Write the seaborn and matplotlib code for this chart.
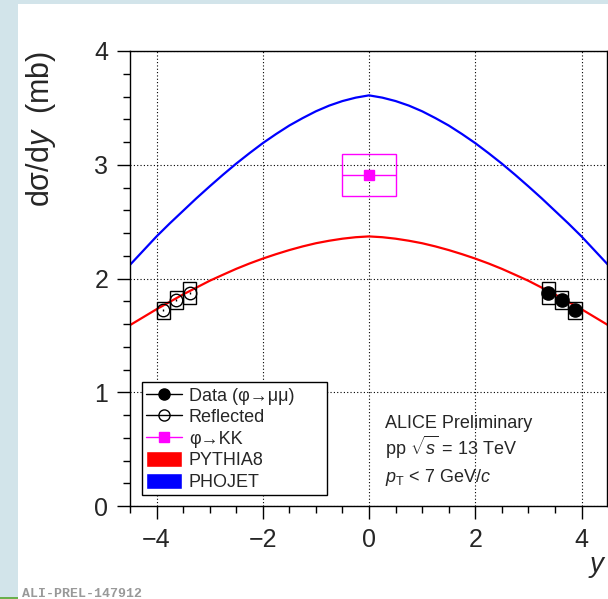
import numpy as np
import pandas as pd
import matplotlib.pyplot as plt
from matplotlib.patches import Rectangle, Patch
from matplotlib.lines import Line2D
from matplotlib.ticker import MultipleLocator
import seaborn as sns

# MC predictions (step 0.25 in y)
y_mc = [-4.5, -4.25, -4.0, -3.75, -3.5, -3.25, -3.0, -2.75, -2.5, -2.25,
        -2.0, -1.75, -1.5, -1.25, -1.0, -0.75, -0.5, -0.25, 0.0,
        0.25, 0.5, 0.75, 1.0, 1.25, 1.5, 1.75, 2.0, 2.25,
        2.5, 2.75, 3.0, 3.25, 3.5, 3.75, 4.0, 4.25, 4.5]
pythia8 = [1.59, 1.66, 1.73, 1.795, 1.86, 1.92, 1.98, 2.033, 2.085, 2.132,
           2.175, 2.214, 2.25, 2.282, 2.31, 2.332, 2.35, 2.363, 2.37,
           2.363, 2.35, 2.332, 2.31, 2.282, 2.25, 2.214, 2.175, 2.132,
           2.085, 2.033, 1.98, 1.92, 1.86, 1.795, 1.73, 1.66, 1.59]
phojet = [2.12, 2.245, 2.37, 2.485, 2.595, 2.705, 2.81, 2.912, 3.01, 3.102,
          3.19, 3.27, 3.345, 3.41, 3.47, 3.52, 3.56, 3.59, 3.61,
          3.59, 3.56, 3.52, 3.47, 3.41, 3.345, 3.27, 3.19, 3.102,
          3.01, 2.912, 2.81, 2.705, 2.595, 2.485, 2.37, 2.245, 2.12]

# phi -> mu mu data (forward) and its reflection
data_y = [3.375, 3.625, 3.875]
refl_y = [-3.375, -3.625, -3.875]
data_val = [1.87, 1.81, 1.72]
data_stat = [0.01, 0.01, 0.01]
data_syst = [0.095, 0.08, 0.075]
data_halfwidth = 0.125

# phi -> KK at midrapidity
kk_y = [0.0]
kk_val = [2.91]
kk_stat = [0.02]
kk_syst = [0.185]
kk_halfwidth = 0.5

sns.set_style('ticks')
plt.rcParams['font.family'] = ['Liberation Sans', 'DejaVu Sans']
plt.rcParams['mathtext.fontset'] = 'custom'
plt.rcParams['mathtext.rm'] = 'Liberation Sans'
plt.rcParams['mathtext.it'] = 'Liberation Sans:italic'

fig = plt.figure(figsize=(6.08, 5.99), dpi=100)
fig.patch.set_facecolor('#d2e4ea')
fig.patches.append(Rectangle((18/608, 0), 1, 1 - 4/599, transform=fig.transFigure,
                             facecolor='white', edgecolor='none', zorder=-2))
fig.patches.append(Rectangle((0, 0), 18/608, 2/599, transform=fig.transFigure,
                             facecolor='#6ab04c', edgecolor='none', zorder=-1))

ax = fig.add_axes([130/608, 1 - 506/599, (607 - 130)/608, (506 - 51)/599])

df = pd.DataFrame({'y': y_mc, 'PYTHIA8': pythia8, 'PHOJET': phojet})
sns.lineplot(data=df, x='y', y='PYTHIA8', color='red', lw=1.6, ax=ax)
sns.lineplot(data=df, x='y', y='PHOJET', color='blue', lw=1.6, ax=ax)

# systematic boxes
for yy, v, s in zip(data_y + refl_y, data_val + data_val, data_syst + data_syst):
    ax.add_patch(Rectangle((yy - data_halfwidth, v - s), 2*data_halfwidth, 2*s,
                           fill=False, edgecolor='black', lw=1, zorder=4))
for yy, v, s in zip(kk_y, kk_val, kk_syst):
    ax.add_patch(Rectangle((yy - kk_halfwidth, v - s), 2*kk_halfwidth, 2*s,
                           fill=False, edgecolor='magenta', lw=1, zorder=4))

ax.errorbar(data_y, data_val, yerr=data_stat, fmt='o', color='black', ms=9.5,
            lw=1, zorder=5)
ax.errorbar(refl_y, data_val, yerr=data_stat, fmt='o', color='black', mfc='none',
            ms=9, lw=1, mew=1, zorder=5)
ax.errorbar(kk_y, kk_val, xerr=kk_halfwidth, yerr=kk_stat, fmt='s', color='magenta',
            ms=7, lw=1, zorder=5)

ax.set_xlim(-4.5, 4.48)
ax.set_ylim(0, 4)
ax.xaxis.set_major_locator(MultipleLocator(2))
ax.xaxis.set_minor_locator(MultipleLocator(0.5))
ax.yaxis.set_major_locator(MultipleLocator(1))
ax.yaxis.set_minor_locator(MultipleLocator(0.2))
ax.tick_params(which='major', direction='out', length=9.5, width=1, labelsize=18,
               pad=6, color='black')
ax.tick_params(which='minor', direction='out', length=5, width=1, color='black')
ax.grid(True, which='major', color='black', linestyle=(0, (1, 2)), lw=0.8)
for sp in ax.spines.values():
    sp.set_visible(True)
    sp.set_color('black')
    sp.set_linewidth(1)

ax.set_xlabel('$y$', loc='right', fontsize=20, labelpad=2)
ax.set_ylabel('dσ/d$y$  (mb)', loc='top', fontsize=22, labelpad=26)

ax.text(0.3, 0.686, 'ALICE Preliminary', fontsize=13, va='baseline')
ax.text(0.3, 0.448, r'pp $\sqrt{s}$ = 13 TeV', fontsize=13, va='baseline')
ax.text(0.3, 0.211, r'$p_{\rm T}$ < 7 GeV/$c$', fontsize=13, va='baseline')

handles = [
    Line2D([], [], color='black', marker='o', ms=8, lw=1),
    Line2D([], [], color='black', marker='o', mfc='none', ms=8, lw=1),
    Line2D([], [], color='magenta', marker='s', ms=7, lw=1),
    Patch(facecolor='red'),
    Patch(facecolor='blue'),
]
labels = ['Data (φ→μμ)', 'Reflected', 'φ→KK', 'PYTHIA8', 'PHOJET']
leg = ax.legend(handles, labels, loc='upper left', mode='expand',
                bbox_to_anchor=(0.025, 0.0, 0.388, 0.2725),
                borderaxespad=0, fontsize=13, handlelength=1.95, handleheight=0.95,
                labelspacing=0.2, borderpad=0.25, handletextpad=0.4,
                fancybox=False, framealpha=1, edgecolor='black')
leg.get_frame().set_linewidth(1)

fig.text(22/608, 0.004, 'ALI-PREL-147912', fontsize=9.5, color='#999999',
         family='Liberation Mono', weight='bold', va='baseline')

fig.savefig('out.png', dpi=100)
